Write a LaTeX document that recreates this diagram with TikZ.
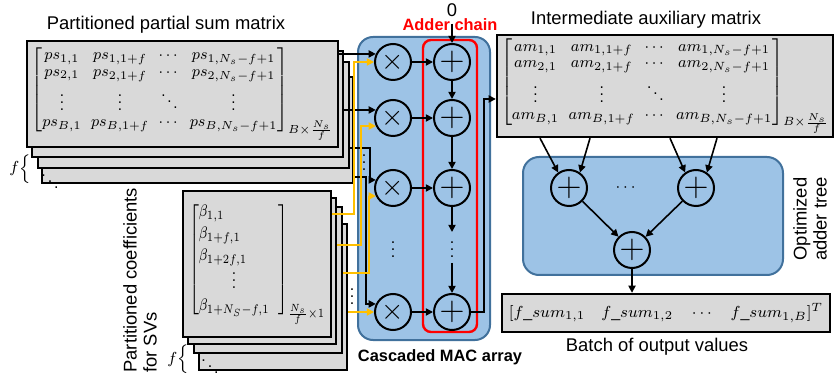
\documentclass[tikz,border=0pt]{standalone}
\usepackage{amsmath}
\usepackage{graphicx}
\usepackage{fontspec}
\setmainfont{Liberation Sans}
\usepackage{tikz}
\usetikzlibrary{arrows.meta,calc}
\definecolor{MacBlue}{HTML}{9DC3E6}
\definecolor{MacEdge}{HTML}{41719C}
\definecolor{SheetGray}{HTML}{D9D9D9}
\definecolor{CoefYellow}{HTML}{FFC000}
\definecolor{ChainRed}{HTML}{FF0000}
\newcommand{\vdotshort}{\vbox{\baselineskip3.5pt\lineskiplimit0pt\hbox{.}\hbox{.}\hbox{.}}}
\newcommand{\tightmat}{\setlength{\arraycolsep}{2.5pt}\renewcommand{\arraystretch}{0.8}}

\begin{document}
\begin{tikzpicture}[x=.5pt,y=-.5pt,
  sheet/.style={draw,line width=1.2pt,fill=SheetGray,inner sep=0pt},
  op/.style={draw,circle,line width=1pt,minimum size=18pt,inner sep=0pt},
  wire/.style={line width=.8pt,-{Triangle[length=3.6pt,width=3.6pt]}},
  ywire/.style={wire,CoefYellow},
  lbl/.style={font=\fontsize{9.2}{10}\selectfont},
  blbl/.style={font=\fontsize{8.2}{10}\selectfont\bfseries},
  mat/.style={font=\fontsize{8}{10.5}\selectfont}]
\useasboundingbox (0,0) rectangle (838,378);

% partitioned partial sums
\node[sheet,minimum width=155.5pt,minimum height=53pt] (ps4) at (197.5,130) {};
\node[sheet,minimum width=155.5pt,minimum height=53pt] (ps3) at (193.5,115) {};
\node[sheet,minimum width=155.5pt,minimum height=53pt] (ps2) at (187.5,104) {};
\node[sheet,minimum width=155.5pt,minimum height=53pt,mat] (ps1) at (182.5,94)
  {\resizebox*{151pt}{46pt}{\tightmat$\begin{bmatrix} ps_{1,1} & ps_{1,1+f} & \cdots & ps_{1,N_s-f+1}\\ ps_{2,1} & ps_{2,1+f} & \cdots & ps_{2,N_s-f+1}\\ \vdotshort & \vdotshort & \ddots & \vdotshort\\ ps_{B,1} & ps_{B,1+f} & \cdots & ps_{B,N_s-f+1} \end{bmatrix}_{B\times\frac{N_s}{f}}$}};
\node[mat] (psdd) at (50,176) {$\ddots$};
\node[mat] (psf) at (20,169) {$f\Big\{$};
\node[lbl] (pstitle) at (166,25) {Partitioned partial sum matrix};

% partitioned coefficients
\node[sheet,minimum width=74pt,minimum height=73pt] (b4) at (273,297) {};
\node[sheet,minimum width=74pt,minimum height=73pt] (b3) at (268,280) {};
\node[sheet,minimum width=74pt,minimum height=73pt] (b2) at (262,271) {};
\node[sheet,minimum width=74pt,minimum height=73pt,mat] (b1) at (257,264)
  {\resizebox*{68pt}{61pt}{\renewcommand{\arraystretch}{0.9}$\left[\begin{array}{@{}l@{}} \beta_{1,1}\\[1pt] \beta_{1+f,1}\\[1pt] \beta_{1+2f,1}\\[3pt] \multicolumn{1}{@{}c@{}}{\vdotshort}\\[1pt] \beta_{1+N_S-f,1}\end{array}\hspace{5pt}\right]_{\frac{N_s}{f}\times1}$}};
\node[mat] (bdd) at (210,361) {$\ddots$};
\node[mat] (bf) at (178,359) {$f\Big\{$};
\node[lbl,rotate=90,align=left,anchor=west,inner sep=0pt] (btitle) at (140,373) {Partitioned coefficients\\for SVs};

% MAC array
\node[draw=MacEdge,line width=1pt,fill=MacBlue,rounded corners=7.5pt,minimum width=66pt,minimum height=151.5pt] (mac) at (424,188.5) {};
\node[draw=ChainRed,line width=1.2pt,rounded corners=4pt,minimum width=27pt,minimum height=146pt] (chain) at (450,186) {};
\node[blbl] (maclabel) at (440,357) {Cascaded MAC array};
\node[blbl,text=ChainRed] (chainlabel) at (450,25) {Adder chain};
\node[lbl] (zero) at (452,10) {0};
\node[op,font=\Large] (mul1) at (393,62) {$\times$};
\node[op,font=\Large] (mul2) at (393,118) {$\times$};
\node[op,font=\Large] (mul3) at (393,188) {$\times$};
\node[op,font=\Large] (mul4) at (393,312) {$\times$};
\node[op,font=\LARGE] (add1) at (452,62) {$+$};
\node[op,font=\LARGE] (add2) at (452,118) {$+$};
\node[op,font=\LARGE] (add3) at (452,188) {$+$};
\node[op,font=\LARGE] (add4) at (452,312) {$+$};
\node[mat] (muldots) at (393,250) {$\vdotshort$};
\node[mat] (chaindots) at (452,250) {$\vdotshort$};
\coordinate (chainA) at (452,232);
\coordinate (chainB) at (452,263);
\node[mat] (psdots) at (364,163) {$\vdotshort$};
\node[mat] (bdots) at (352,297) {$\vdotshort$};

\draw[wire] (ps1.east |- mul1.155) -- (mul1.155);
\draw[wire] (ps2.east |- mul2.155) -- (mul2.155);
\draw[wire] (ps3.east |- 0,148) -- (370,148) |- (mul3.155);
\draw[wire] (ps4.east |- 0,177) -- (366,177) |- (mul4.155);
\draw[ywire] (b1.east |- 0,214) -- (354,214) |- (mul1.west);
\draw[ywire] (b2.east |- 0,245) -- (361,245) |- (mul2.205);
\draw[ywire] (b3.east |- 0,273) -- (369,273) |- (mul3.205);
\draw[ywire] (b4.east |- mul4.west) -- (mul4.west);
\draw[wire] (mul1) -- (add1);
\draw[wire] (mul2) -- (add2);
\draw[wire] (mul3) -- (add3);
\draw[wire] (mul4) -- (add4);
\draw[wire] (zero) -- (add1);
\draw[wire] (add1) -- (add2);
\draw[wire] (add2) -- (add3);
\draw[wire] (add3) -- (chainA);
\draw[wire] (chainB) -- (add4);

% intermediate matrix and adder tree
\node[sheet,minimum width=168pt,minimum height=51pt,mat] (am) at (665,86)
  {\resizebox*{164pt}{47pt}{\tightmat$\begin{bmatrix} am_{1,1} & am_{1,1+f} & \cdots & am_{1,N_s-f+1}\\ am_{2,1} & am_{2,1+f} & \cdots & am_{2,N_s-f+1}\\ \vdotshort & \vdotshort & \ddots & \vdotshort\\ am_{B,1} & am_{B,1+f} & \cdots & am_{B,N_s-f+1} \end{bmatrix}_{B\times\frac{N_s}{f}}$}};
\node[lbl] (amtitle) at (646,20) {Intermediate auxiliary matrix};
\draw[wire] (add4) -- (484,312) |- ([yshift=-6.5pt]am.west);
\node[draw=MacEdge,line width=1pt,fill=MacBlue,rounded corners=8pt,minimum width=130pt,minimum height=59pt] (tree) at (653,216) {};
\node[lbl,rotate=90,align=center] (treetitle) at (810,219) {Optimized\\adder tree};
\node[op,font=\LARGE] (ta1) at (569,188) {$+$};
\node[op,font=\LARGE] (ta2) at (696,188) {$+$};
\node[op,font=\LARGE] (tb) at (632,250) {$+$};
\node[mat] (tdots) at (627,188) {$\cdots$};
\node[sheet,minimum width=164pt,minimum height=19pt,mat] (out) at (666,313)
  {$[f\_sum_{1,1}\quad f\_sum_{1,2}\quad \cdots\quad f\_sum_{1,B}]^T$};
\node[lbl] (outlabel) at (657,347) {Batch of output values};
\draw[wire] (am.south -| 540,0) -- (ta1.125);
\draw[wire] (am.south -| 590,0) -- (ta1.55);
\draw[wire] (am.south -| 670,0) -- (ta2.125);
\draw[wire] (am.south -| 717,0) -- (ta2.55);
\draw[wire] (ta1) -- (tb);
\draw[wire] (ta2) -- (tb);
\draw[wire] (tb) -- (tb |- out.north);
\end{tikzpicture}
\end{document}
